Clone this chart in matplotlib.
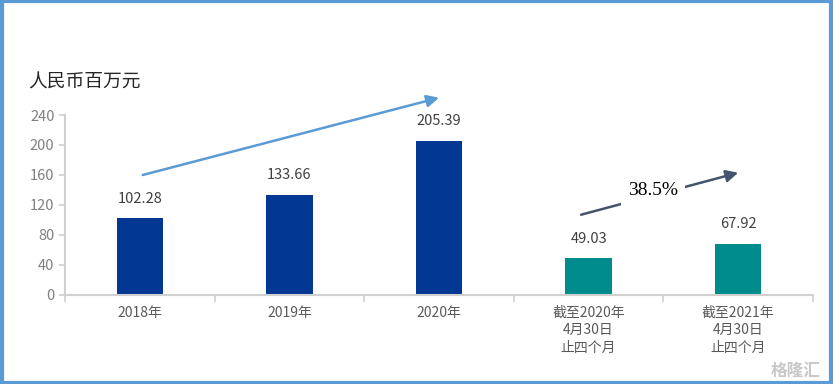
import matplotlib.pyplot as plt
import matplotlib.patches as mpatches

plt.rcParams['font.family'] = ['Noto Sans CJK SC', 'DejaVu Sans']

categories = ['2018年', '2019年', '2020年',
              '截至2020年\n4月30日\n止四个月', '截至2021年\n4月30日\n止四个月']
values = [102.28, 133.66, 205.39, 49.03, 67.92]
colors = ['#023893', '#023893', '#023893', '#008C8C', '#008C8C']
yticks = [0, 40, 80, 120, 160, 200, 240]
growth_label = '38.5%'

fig = plt.figure(figsize=(8.33, 3.84), dpi=100)
ax = fig.add_axes([0.078, 0.232, 0.898, 0.4685])

x = list(range(len(categories)))
ax.bar(x, values, width=0.31, color=colors, zorder=2)

for xi, v in zip(x, values):
    ax.annotate(f'{v:.2f}', (xi, v), xytext=(0, 9), textcoords='offset points',
                ha='center', va='bottom', fontsize=10.5, color='#404040')

ax.set_xlim(-0.5, len(categories) - 0.5)
ax.set_ylim(0, 240)
ax.set_yticks(yticks)
ax.set_xticks(x)
ax.set_xticklabels(categories, fontsize=10, color='#595959', linespacing=1.3)
ax.tick_params(axis='x', length=0, pad=8)
ax.tick_params(axis='y', colors='#D0D0D0', labelcolor='#808080', labelsize=10.5,
               length=4, width=1.2)
ax.set_xticks([i - 0.5 for i in range(len(categories) + 1)], minor=True)
ax.tick_params(axis='x', which='minor', length=5, color='#D0D0D0', width=1.2)

for s in ['top', 'right']:
    ax.spines[s].set_visible(False)
for s in ['left', 'bottom']:
    ax.spines[s].set_color('#D0D0D0')
    ax.spines[s].set_linewidth(1.5)

# growth arrows
ax.annotate('', xy=(2.0, 263), xytext=(0.02, 160), annotation_clip=False,
            arrowprops=dict(arrowstyle='-|>', color='#5B9BD5', lw=1.8,
                            mutation_scale=18, shrinkA=0, shrinkB=0))
ax.annotate('', xy=(4.0, 163), xytext=(2.95, 107), annotation_clip=False,
            arrowprops=dict(arrowstyle='-|>', color='#44546A', lw=1.8,
                            mutation_scale=18, shrinkA=0, shrinkB=0))
ax.text(3.43, 139, growth_label, ha='center', va='center', fontsize=14,
        family='Liberation Serif', color='black',
        bbox=dict(facecolor='white', edgecolor='none', pad=5), zorder=5)

fig.text(0.034, 0.785, '人民币百万元', fontsize=13.5, color='#262626',
         ha='left', va='center')

# watermark
fig.text(0.985, 0.035, '格隆汇', fontsize=12, color='#C8C8C8',
         ha='right', va='center', weight='bold')

fig.patches.append(mpatches.Rectangle((0.002, 0.003), 0.996, 0.994,
                                      transform=fig.transFigure, fill=False,
                                      edgecolor='#5B9BD5', linewidth=3))

fig.savefig('out.png', dpi=100)
